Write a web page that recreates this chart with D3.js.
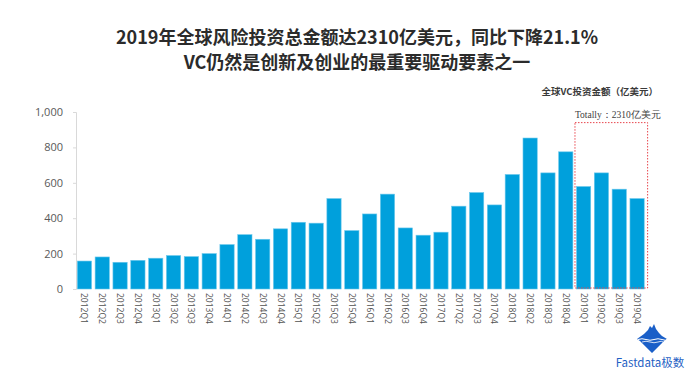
<!DOCTYPE html>
<html>
<head>
<meta charset="utf-8">
<script src="https://cdn.jsdelivr.net/npm/d3@7"></script>
<style>
  body { margin: 0; background: #fff; }
  svg { display: block; font-family: "Noto Sans CJK SC", "Noto Sans", sans-serif; }
</style>
</head>
<body>
<div id="chart"></div>
<script>
// Quarters, 2012Q1 .. 2019Q4
const quarters = [
    "2012Q1", "2012Q2", "2012Q3", "2012Q4",
    "2013Q1", "2013Q2", "2013Q3", "2013Q4",
    "2014Q1", "2014Q2", "2014Q3", "2014Q4",
    "2015Q1", "2015Q2", "2015Q3", "2015Q4",
    "2016Q1", "2016Q2", "2016Q3", "2016Q4",
    "2017Q1", "2017Q2", "2017Q3", "2017Q4",
    "2018Q1", "2018Q2", "2018Q3", "2018Q4",
    "2019Q1", "2019Q2", "2019Q3", "2019Q4",
];

// Global VC investment (100M USD)
const amounts = [
    158, 181, 151, 162,
    174, 189, 183, 200,
    251, 307, 281, 340,
    377, 372, 511, 330,
    424, 536, 345, 304,
    321, 468, 545, 475,
    647, 853, 656, 775,
    579, 656, 564, 511,
];

const yTicks = [0, 200, 400, 600, 800, 1000];
const highlight = ["2019Q1", "2019Q4"];
const highlightTop = 940;

const titleLines = [
    "2019年全球风险投资总金额达2310亿美元，同比下降21.1%",
    "VC仍然是创新及创业的最重要驱动要素之一",
];
const unitLabel = "全球VC投资金额（亿美元）";
const totalLabel = "Totally：2310亿美元";
const brand = "Fastdata极数";

const width = 700, height = 386;
const barColor = "#00a0dc";

const svg = d3.select("#chart").append("svg")
    .attr("width", width)
    .attr("height", height);

// Titles
svg.selectAll(".title")
    .data(titleLines)
    .enter()
    .append("text")
    .attr("class", "title")
    .attr("x", 357)
    .attr("y", (d, i) => 44 + i * 25)
    .attr("text-anchor", "middle")
    .attr("font-size", 18)
    .attr("font-weight", "bold")
    .attr("fill", "#2b2b2b")
    .text(d => d);

svg.append("text")
    .attr("x", 658)
    .attr("y", 95)
    .attr("text-anchor", "end")
    .attr("font-size", 9.5)
    .attr("font-weight", "bold")
    .attr("fill", "#3a3a3a")
    .text(unitLabel);

// Scales
const x = d3.scaleBand()
    .domain(quarters)
    .range([75.5, 646])
    .paddingInner(0.2)
    .paddingOuter(0.1);

const y = d3.scaleLinear()
    .domain([0, 1000])
    .range([289, 112]);

// Y axis
const yAxis = svg.append("g")
    .attr("transform", "translate(76,0)")
    .call(d3.axisLeft(y).tickValues(yTicks).tickSize(3).tickPadding(10)
        .tickFormat(d3.format(",")));
yAxis.select(".domain").attr("stroke", "#d9d9d9");
yAxis.selectAll(".tick line").attr("stroke", "#d9d9d9");
yAxis.selectAll(".tick text")
    .attr("font-family", "'Open Sans', 'Noto Sans', sans-serif")
    .attr("font-size", 11)
    .attr("fill", "#595959");

// Bars
svg.selectAll(".bar")
    .data(quarters)
    .enter()
    .append("rect")
    .attr("class", "bar")
    .attr("x", d => x(d))
    .attr("y", (d, i) => y(amounts[i]))
    .attr("width", x.bandwidth())
    .attr("height", (d, i) => y(0) - y(amounts[i]))
    .attr("fill", barColor)
    .attr("stroke", "#6cc8ec")
    .attr("stroke-width", 0.6);

// X labels (rotated)
svg.selectAll(".xlabel")
    .data(quarters)
    .enter()
    .append("text")
    .attr("class", "xlabel")
    .attr("transform", d => `translate(${x(d) + x.bandwidth() / 2},293) rotate(90)`)
    .attr("dy", "0.35em")
    .attr("font-family", "'Open Sans', 'Noto Sans', sans-serif")
    .attr("font-size", 8.5)
    .attr("fill", "#505050")
    .text(d => d);

// Highlight box for 2019
const boxLeft = x(highlight[0]) - 1.5;
const boxRight = x(highlight[1]) + x.bandwidth() + 3.4;
svg.append("rect")
    .attr("x", boxLeft)
    .attr("y", y(highlightTop))
    .attr("width", boxRight - boxLeft)
    .attr("height", y(0) - y(highlightTop) - 1)
    .attr("fill", "none")
    .attr("stroke", "#e8464d")
    .attr("stroke-width", 1)
    .attr("stroke-dasharray", "1.5,1.5");

svg.append("text")
    .attr("x", boxLeft)
    .attr("y", y(highlightTop) - 5)
    .attr("font-family", "'Liberation Serif', 'DejaVu Serif', serif")
    .attr("font-size", 9.5)
    .attr("fill", "#404040")
    .text(totalLabel);

// Logo: iceberg + brand name
const logo = svg.append("g").attr("transform", "translate(652,339)");
logo.append("path")
    .attr("d", "M-15,0 L-8,-5 L-4,-9 L-2,-13 L0,-11 L2,-15 L4,-10 L7,-6 L10,-3 L15,0 L12,2 L0,14 L-12,2 Z")
    .attr("fill", "#1a5fc8");
logo.append("path")
    .attr("d", "M-14,0.5 Q-10,-1 -6,0.5 T2,0.5 T10,0.5 T15,0.5")
    .attr("fill", "none")
    .attr("stroke", "#fff")
    .attr("stroke-width", 1);
logo.append("path")
    .attr("d", "M-10,3 Q-6,1.5 -2,3 T6,3 T11,3")
    .attr("fill", "none")
    .attr("stroke", "#fff")
    .attr("stroke-width", 0.8);

svg.append("text")
    .attr("x", 650)
    .attr("y", 367)
    .attr("text-anchor", "middle")
    .attr("font-size", 11.5)
    .attr("fill", "#1f5fc4")
    .text(brand);
</script>
</body>
</html>
